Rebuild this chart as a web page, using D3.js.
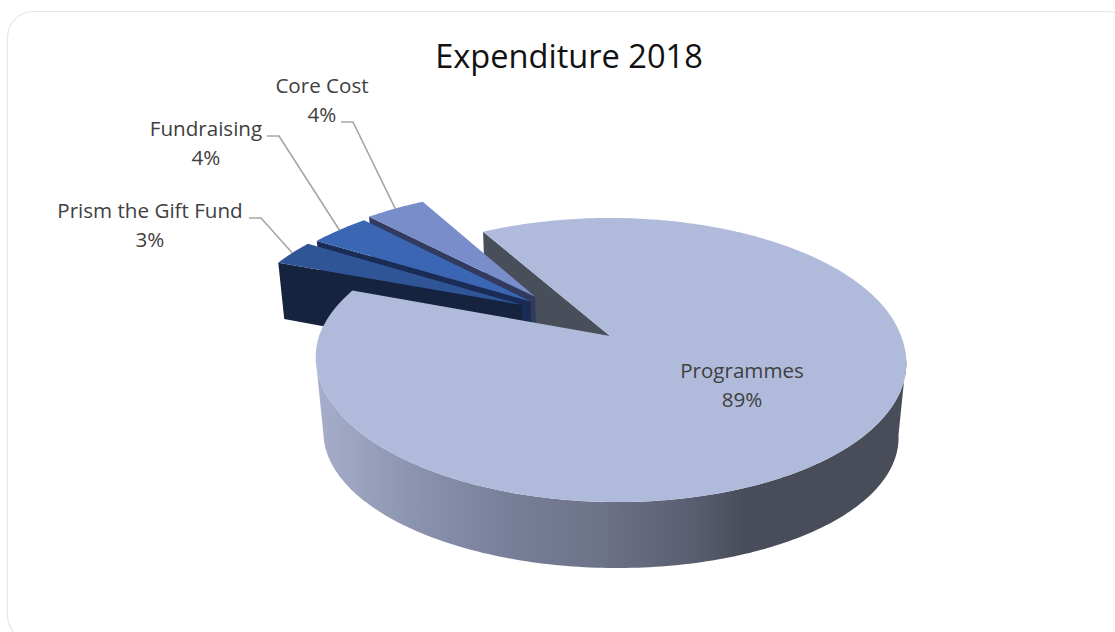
<!DOCTYPE html>
<html>
<head>
<meta charset="utf-8">
<script src="https://cdnjs.cloudflare.com/ajax/libs/d3/7.8.5/d3.min.js"></script>
<style>
  html, body { margin: 0; padding: 0; background: #fff; overflow: hidden; }
  text { font-family: "Open Sans", sans-serif; fill: #404040; }
</style>
</head>
<body>
<div id="chart"></div>
<script>
// data
const categories = ["Programmes", "Prism the Gift Fund", "Fundraising", "Core Cost"];
const values = [89, 3, 4, 4];
const chartTitle = "Expenditure 2018";

// styling, same order as categories
const topColors = ["#b0bbdb", "#2f5597", "#3b66b4", "#788dc9"];
const sideColors = ["#484f5b", "#15233f", "#1a2c55", "#303b5f"];
// how far each slice is pulled out of the pie, in pie radii
const explode = [[0, 0], [-0.315, -0.235], [-0.285, -0.262], [-0.27, -0.298]];
// label anchor and the short elbow of the leader line
const labelPos = [[742, 378], [150, 218], [206, 136], [322, 93]];
const elbow = [null, [249, 218], [267, 136], [341, 122]];

// perspective camera on the pie plane (u,v in radii, S leans the front to the right)
const cam = { ax: 610, ay: 336, A: 291, B: 138, p: 0.169, S: 6 };
// the bottom face is fitted on its own, big slice and small slices differ a bit
const bottomMain = { B: 119.8, C: 79.1, q: 0.0262 };
const bottomSmall = { B: 138, C: 61.4, q: 0.02 };

function project(u, v, bottom) {
  let B = bottom ? bottom.B : cam.B;
  let C = bottom ? bottom.C : 0;
  let q = bottom ? bottom.q : 0;
  let w = 1 - cam.p * v + q;
  return [cam.ax + (cam.A * u + cam.S * Math.max(v, 0)) / w, cam.ay + (B * v + C) / w];
}

const deg = Math.PI / 180;
let pie = d3.pie().sort(null).startAngle(-30 * deg).endAngle(330 * deg);
let slices = pie(values).map((d, i) => ({
  i: i, start: d.startAngle, end: d.endAngle, dx: explode[i][0], dy: explode[i][1],
  bottom: i == 0 ? bottomMain : bottomSmall
}));

// point on a slice at radius r and angle a (clockwise from the back of the pie)
function pt(s, r, a, low) {
  return project(s.dx + r * Math.sin(a), s.dy - r * Math.cos(a), low ? s.bottom : null);
}
function arcPts(s, from, to, low) {
  let n = Math.max(2, Math.ceil(Math.abs(to - from) / deg));
  return d3.range(n + 1).map(k => pt(s, 1, from + (to - from) * k / n, low));
}

let line = d3.line().curve(d3.curveLinear);

let svg = d3.select("#chart").append("svg")
  .attr("width", 1115)
  .attr("height", 632)
  .style("display", "block");

svg.append("rect")
  .attr("x", 7.5).attr("y", 11.5)
  .attr("width", 1125).attr("height", 630)
  .attr("rx", 26)
  .attr("fill", "#fff")
  .attr("stroke", "#e6e6e6")
  .attr("stroke-width", 1.2);

// side wall shading
let grad = svg.append("defs").append("linearGradient")
  .attr("id", "wall")
  .attr("gradientUnits", "userSpaceOnUse")
  .attr("x1", 320).attr("x2", 745).attr("y1", 0).attr("y2", 0);
[[0, "#a5adca"], [0.24, "#8a91ac"], [0.45, "#777e98"], [0.66, "#6d7388"], [0.88, "#595d70"], [1, "#484d59"]]
  .forEach(s => grad.append("stop").attr("offset", s[0]).attr("stop-color", s[1]));

function sideFace(s, a) {
  return line([pt(s, 0, a, false), pt(s, 1, a, false), pt(s, 1, a, true), pt(s, 0, a, true)]) + "Z";
}
function topFace(s) {
  return line([pt(s, 0, 0, false)].concat(arcPts(s, s.start, s.end, false))) + "Z";
}

let main = slices[0];

// back to front: grey cut face of the big slice, pulled-out slices, big slice
svg.append("path")
  .attr("d", sideFace(main, main.start))
  .attr("fill", sideColors[0]);

slices.slice(1).reverse().forEach(s => {
  svg.append("path")
    .attr("d", sideFace(s, s.start))
    .attr("fill", sideColors[s.i]);
  svg.append("path")
    .attr("d", topFace(s))
    .attr("fill", topColors[s.i]);
});

// wall runs between the widest points of the two faces
let wallFrom = 99.5 * deg, wallTo = 260.5 * deg;
svg.append("path")
  .attr("d", line(arcPts(main, wallFrom, wallTo, false).concat(arcPts(main, wallTo, wallFrom, true))) + "Z")
  .attr("fill", "url(#wall)");
svg.append("path")
  .attr("d", topFace(main))
  .attr("fill", topColors[0]);

// leader lines go from the elbow to the middle of the slice's outer edge
slices.slice(1).forEach(s => {
  let e = elbow[s.i];
  svg.append("path")
    .attr("d", line([e, [e[0] + 12, e[1]], pt(s, 1, (s.start + s.end) / 2, false)]))
    .attr("fill", "none")
    .attr("stroke", "#a6a6a6")
    .attr("stroke-width", 1.6);
});

// labels
slices.forEach(s => {
  let p = labelPos[s.i];
  let t = svg.append("text")
    .attr("text-anchor", "middle")
    .attr("font-size", 20.6);
  t.append("tspan").attr("x", p[0]).attr("y", p[1]).text(categories[s.i]);
  t.append("tspan").attr("x", p[0]).attr("y", p[1] + 29).text(values[s.i] + "%");
});

svg.append("text")
  .attr("x", 569)
  .attr("y", 68)
  .attr("text-anchor", "middle")
  .attr("font-size", 32.6)
  .style("fill", "#111")
  .text(chartTitle);
</script>
</body>
</html>
